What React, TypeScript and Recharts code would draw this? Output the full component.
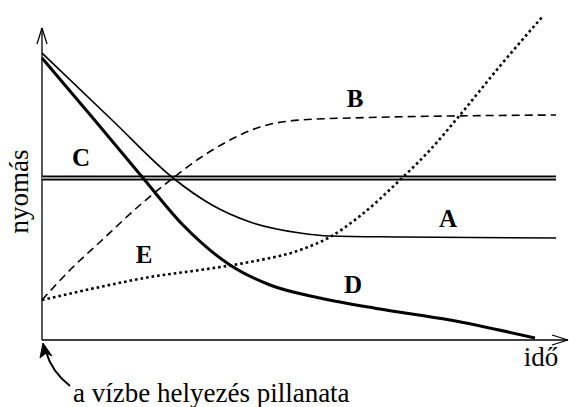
import React from 'react';
import { LineChart, Line, XAxis, YAxis, ReferenceLine } from 'recharts';

// x: time, y: pressure (arbitrary units)
const aX = [0, 70, 131, 170, 208, 258, 288, 358, 514];
const aY = [287, 220, 162, 135, 118, 107, 104, 103, 102];

const bX = [0, 28, 58, 98, 131, 158, 188, 218, 258, 308, 514];
const bY = [40, 70, 98, 135, 162, 182, 200, 213, 220, 222, 225];

const cX = [0, 514];
const cY = [162, 162];

const dX = [0, 50, 101, 140, 188, 228, 278, 338, 408, 493];
const dY = [282, 223, 162, 116, 75, 55, 42, 31, 20, 2];

const eX = [0, 58, 108, 158, 208, 258, 288, 318, 358, 388, 418, 458, 501];
const eY = [40, 53, 63, 70, 78, 90, 103, 124, 160, 190, 225, 274, 324];

// curve letters: name, centre x, baseline y (page pixels)
const curveLabels: [string, number, number][] = [
  ['C', 81, 166],
  ['B', 355, 107],
  ['A', 448, 227],
  ['E', 144, 263],
  ['D', 353, 293],
];

const zip = (xs: number[], ys: number[]) => xs.map((x, i) => ({ x, y: ys[i] }));

const LBL = 25;
const TXT = 27;

// no font-family: text inherits the page's default serif font
const base: React.CSSProperties = {
  position: 'absolute',
  whiteSpace: 'nowrap',
  color: '#000',
};

export default function App() {
  return (
    <div style={{ position: 'absolute', left: 0, top: 0, width: 569, height: 407, overflow: 'hidden', background: '#fff' }}>
      <LineChart
        width={569}
        height={407}
        margin={{ top: 16, right: 13, bottom: 67, left: 42 }}
      >
        <XAxis type="number" dataKey="x" domain={[0, 514]} hide />
        <YAxis type="number" dataKey="y" domain={[0, 324]} hide />

        {/* axes with arrow heads */}
        <ReferenceLine segment={[{ x: 0, y: 0 }, { x: 0, y: 312 }]} stroke="#000" strokeWidth={1.3} ifOverflow="visible" />
        <ReferenceLine segment={[{ x: -5, y: 296 }, { x: 0, y: 312 }]} stroke="#000" strokeWidth={1.3} ifOverflow="visible" />
        <ReferenceLine segment={[{ x: 5, y: 296 }, { x: 0, y: 312 }]} stroke="#000" strokeWidth={1.3} ifOverflow="visible" />
        <ReferenceLine segment={[{ x: 0, y: 0 }, { x: 526, y: 0 }]} stroke="#000" strokeWidth={1.3} ifOverflow="visible" />
        <ReferenceLine segment={[{ x: 510, y: 5 }, { x: 526, y: 0 }]} stroke="#000" strokeWidth={1.3} ifOverflow="visible" />
        <ReferenceLine segment={[{ x: 510, y: -5 }, { x: 526, y: 0 }]} stroke="#000" strokeWidth={1.3} ifOverflow="visible" />

        {/* C: double line */}
        <Line data={zip(cX, cY)} dataKey="y" type="linear" stroke="#000" strokeWidth={5} dot={false} isAnimationActive={false} />
        <Line data={zip(cX, cY)} dataKey="y" type="linear" stroke="#9a9a9a" strokeWidth={2} dot={false} isAnimationActive={false} />

        <Line data={zip(aX, aY)} dataKey="y" type="monotone" stroke="#000" strokeWidth={1.6} dot={false} isAnimationActive={false} />
        <Line data={zip(bX, bY)} dataKey="y" type="monotone" stroke="#000" strokeWidth={1.6} strokeDasharray="8 5" dot={false} isAnimationActive={false} />
        <Line data={zip(dX, dY)} dataKey="y" type="monotone" stroke="#000" strokeWidth={3} dot={false} isAnimationActive={false} />
        <Line data={zip(eX, eY)} dataKey="y" type="monotone" stroke="#000" strokeWidth={2.6} strokeDasharray="2.6 3" dot={false} isAnimationActive={false} />
      </LineChart>

      {/* annotation arrow */}
      <svg width={569} height={407} style={{ position: 'absolute', left: 0, top: 0, pointerEvents: 'none' }}>
        <path d="M 70 386 Q 52 372 46 352" fill="none" stroke="#000" strokeWidth={2} />
        <path d="M 43 343 L 40 358 L 46 353 L 52 356 Z" fill="#000" stroke="#000" strokeWidth={1} />
      </svg>

      {curveLabels.map(([t, cx, by]) => (
        <div
          key={t}
          style={{
            ...base,
            left: cx - 20,
            width: 40,
            textAlign: 'center',
            top: by - 0.8375 * LBL,
            fontSize: LBL,
            lineHeight: `${LBL}px`,
            fontWeight: 700,
          }}
        >
          {t}
        </div>
      ))}

      <div
        style={{
          ...base,
          left: 19 - 60,
          top: 191 - TXT / 2,
          width: 120,
          textAlign: 'center',
          fontSize: TXT,
          lineHeight: `${TXT}px`,
          transform: 'rotate(-90deg)',
        }}
      >
        nyomás
      </div>
      <div style={{ ...base, left: 501, width: 80, textAlign: 'center', top: 367 - 0.8375 * TXT, fontSize: TXT, lineHeight: `${TXT}px` }}>
        idő
      </div>
      <div style={{ ...base, left: 73, top: 403 - 0.8375 * TXT, fontSize: TXT, lineHeight: `${TXT}px` }}>
        a vízbe helyezés pillanata
      </div>
    </div>
  );
}
